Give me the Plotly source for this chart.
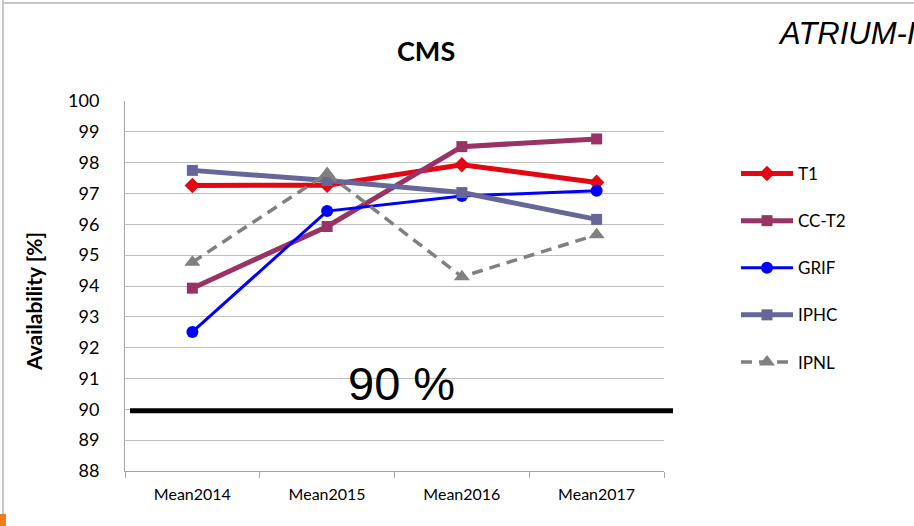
import plotly.graph_objects as go

categories = ["Mean2014", "Mean2015", "Mean2016", "Mean2017"]
t1 = [97.26, 97.27, 97.93, 97.36]
cc_t2 = [93.93, 95.93, 98.52, 98.77]
grif = [92.51, 96.43, 96.92, 97.09]
iphc = [97.75, 97.42, 97.03, 96.16]
ipnl = [94.77, 97.65, 94.30, 95.66]
threshold = 90
y_ticks = list(range(88, 101))

W, H = 914, 526
L, R, T, B = 125, 664, 101, 471

font_main = "Lato, 'Open Sans', sans-serif"


def px(x):
    return (x - L) / (R - L)


def py(y):
    return (B - y) / (B - T)


fig = go.Figure()

series = [
    ("T1", t1, "#E30613", 5, "diamond", 12, "solid"),
    ("CC-T2", cc_t2, "#993366", 5, "square", 11, "solid"),
    ("GRIF", grif, "#0000FF", 3, "circle", 12, "solid"),
    ("IPHC", iphc, "#666699", 5, "square", 11, "solid"),
    ("IPNL", ipnl, "#808080", 3.5, "triangle-up", 14, "11px,7px"),
]
for name, vals, col, lw, sym, ms, dash in series:
    fig.add_trace(go.Scatter(
        x=categories, y=vals, name=name, mode="lines+markers",
        line=dict(color=col, width=lw, dash=dash),
        marker=dict(symbol=sym, size=ms, color=col),
        legendgroup=name,
    ))

fig.add_shape(type="line", xref="paper", yref="y",
              x0=px(130), x1=px(673),
              y0=threshold - 0.05, y1=threshold - 0.05,
              line=dict(color="black", width=5), layer="above")

fig.add_annotation(text=f"{threshold} %", xref="paper", yref="y",
                   x=px(401), y=threshold - 0.1, showarrow=False,
                   font=dict(family="Liberation Sans, Arial", size=47, color="black"),
                   xanchor="center", yanchor="bottom")

fig.add_annotation(text="<b>CMS</b>", xref="paper", yref="paper",
                   x=px(426), y=py(50),
                   showarrow=False, xanchor="center", yanchor="middle",
                   font=dict(family="'Liberation Sans Narrow', " + font_main, size=27, color="black"))

fig.add_annotation(text="<i>ATRIUM-I</i>", xref="paper", yref="paper",
                   x=px(776), y=py(33),
                   showarrow=False, xanchor="left", yanchor="middle",
                   font=dict(family="Liberation Sans, Arial", size=31, color="black"))

fig.add_annotation(text="<b>Availability [%]</b>", xref="paper", yref="paper",
                   x=px(33), y=py(302),
                   showarrow=False, textangle=-90, xanchor="center", yanchor="middle",
                   font=dict(family=font_main, size=21, color="black"))

# frame decorations
fig.add_shape(type="line", xref="paper", yref="paper",
              x0=px(3), x1=px(3), y0=py(0), y1=py(526),
              line=dict(color="#C8C8C8", width=2))
fig.add_shape(type="line", xref="paper", yref="paper",
              x0=px(3), x1=px(914), y0=py(3), y1=py(3),
              line=dict(color="#C8C8C8", width=2))
fig.add_shape(type="rect", xref="paper", yref="paper",
              x0=px(0), x1=px(6), y0=py(514), y1=py(526),
              fillcolor="#F07D1A", line=dict(width=0))

fig.update_layout(
    width=W, height=H,
    margin=dict(l=L, r=W - R, t=T, b=H - B, pad=0),
    paper_bgcolor="white", plot_bgcolor="white",
    showlegend=True,
    legend=dict(x=px(736), y=py(156),
                xanchor="left", yanchor="top",
                font=dict(family=font_main, size=17, color="black"),
                tracegroupgap=22, itemwidth=52, bgcolor="rgba(0,0,0,0)"),
    xaxis=dict(type="category", range=[-0.5, 3.5], showgrid=False,
               showline=True, linecolor="#A6A6A6", linewidth=1,
               ticks="outside", tickson="boundaries", ticklen=6, tickcolor="#A6A6A6",
               tickfont=dict(family=font_main, size=16, color="black"),
               ticklabelstandoff=9, fixedrange=True),
    yaxis=dict(range=[88, 100], tickvals=y_ticks, showgrid=True, gridcolor="#BFBFBF",
               gridwidth=1, showline=True, linecolor="#A6A6A6", linewidth=1,
               ticks="", zeroline=False,
               tickfont=dict(family=font_main, size=18, color="black"), ticklabelstandoff=21),
)

fig.write_html("out.html", config={"displayModeBar": False},
               post_script="document.body.style.margin='0';document.body.style.overflow='hidden';")
